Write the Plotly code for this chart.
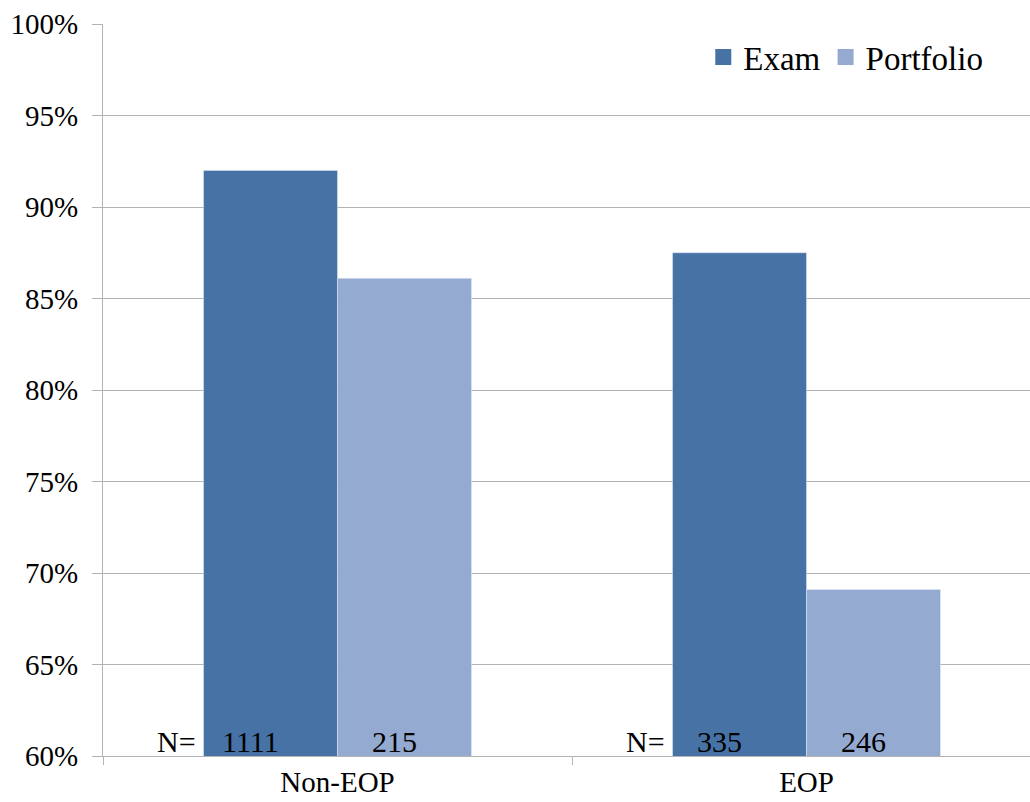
import plotly.graph_objects as go

# Pass rates by group and assessment type
categories = ["Non-EOP", "EOP"]
exam_rate = [0.920, 0.875]
portfolio_rate = [0.861, 0.691]
exam_n = ["1111", "335"]
portfolio_n = ["215", "246"]
series_names = ["Exam", "Portfolio"]

EXAM_COLOR = "#4672A6"
PORTFOLIO_COLOR = "#95AAD1"
FONT = "Times New Roman, Liberation Serif, serif"
GRID = "#B3B3B3"
BARGAP = 0.4286
HALF = (1 - BARGAP) / 2  # width of one bar in category units

fig = go.Figure()
fig.add_trace(go.Bar(name=series_names[0], x=categories, y=exam_rate,
                     marker_color=EXAM_COLOR, showlegend=False))
fig.add_trace(go.Bar(name=series_names[1], x=categories, y=portfolio_rate,
                     marker_color=PORTFOLIO_COLOR, showlegend=False))

# Legend keys with larger square swatches
for name, color in zip(series_names, [EXAM_COLOR, PORTFOLIO_COLOR]):
    fig.add_trace(go.Scatter(x=[None], y=[None], mode="markers", name=name,
                             marker=dict(symbol="square", size=16, color=color),
                             showlegend=True, hoverinfo="skip"))

# Sample sizes written along the bottom of each bar, with an "N=" prefix
nfont = dict(family=FONT, size=30, color="black")
for i, _ in enumerate(categories):
    fig.add_annotation(x=i - HALF, y=0.6, text="N=", showarrow=False,
                       xanchor="right", yanchor="bottom", xshift=-6, yshift=-4,
                       font=nfont)
    fig.add_annotation(x=i - HALF / 2, y=0.6, text=exam_n[i], showarrow=False,
                       xanchor="center", yanchor="bottom", xshift=-20, yshift=-4,
                       font=nfont)
    fig.add_annotation(x=i + HALF / 2, y=0.6, text=portfolio_n[i], showarrow=False,
                       xanchor="center", yanchor="bottom", xshift=-10, yshift=-4,
                       font=nfont)

fig.update_layout(
    width=1030, height=802,
    margin=dict(l=103, r=0, t=24, b=46),
    paper_bgcolor="white", plot_bgcolor="white",
    barmode="group", bargap=BARGAP, bargroupgap=0,
    font=dict(family=FONT, color="black"),
    showlegend=True,
    legend=dict(
        orientation="h", x=0.955, xanchor="right", y=0.993, yanchor="top",
        font=dict(family=FONT, size=33, color="black"),
        bgcolor="rgba(0,0,0,0)", itemclick=False, itemdoubleclick=False,
    ),
)
fig.update_xaxes(
    range=[-0.5, 1.4765],
    showline=True, linecolor=GRID, linewidth=1,
    ticks="outside", tickson="boundaries", ticklen=8, tickcolor=GRID,
    tickfont=dict(family=FONT, size=29, color="black"),
    showgrid=False, zeroline=False,
)
fig.update_yaxes(
    range=[0.6, 1.0], dtick=0.05, tickformat=".0%",
    showline=True, linecolor=GRID, linewidth=1,
    ticks="outside", ticklen=10, tickcolor=GRID,
    tickfont=dict(family=FONT, size=29, color="black"),
    ticklabelstandoff=8,
    showgrid=True, gridcolor=GRID, gridwidth=1, zeroline=False,
)

fig.write_html("out.html")
